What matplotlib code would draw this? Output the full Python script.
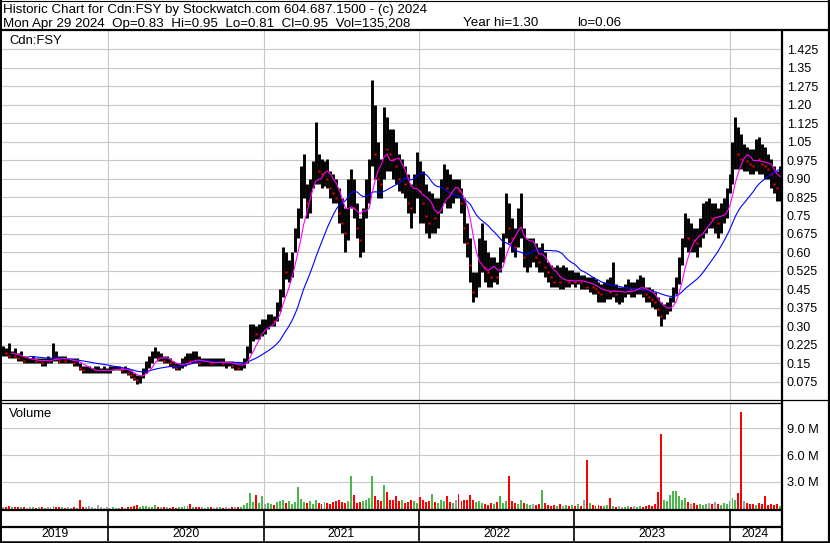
import numpy as np
import pandas as pd
import matplotlib
matplotlib.use("Agg")
import matplotlib.pyplot as plt

plt.rcParams['font.family'] = ['Liberation Sans', 'DejaVu Sans']

# ---------------- data (weekly) ----------------
last_week = "2024-04-29"
n_weeks = 262

high = [
    .22, .21, .23, .20, .21, .19, .20, .18, .18, .17,
    .18, .17, .17, .17, .17, .18, .17, .23, .20, .18,
    .18, .18, .17, .17, .17, .17, .15, .14, .14, .14,
    .13, .14, .14, .13, .14, .13, .14, .14, .14, .14,
    .13, .14, .13, .12, .11, .10, .10, .13, .16, .18,
    .20, .215, .20, .19, .18, .18, .17, .16, .15, .15,
    .17, .18, .19, .19, .20, .20, .18, .17, .17, .17,
    .17, .17, .17, .17, .17, .16, .16, .16, .15, .15,
    .15, .17, .22, .31, .31, .30, .31, .33, .33, .35,
    .35, .34, .40, .45, .62, .60, .57, .60, .70, .78,
    .95, 1.00, .88, .90, .97, 1.13, 1.00, .98, .97, .98,
    .93, .92, .90, .86, .82, .78, .90, .94, .90, .80,
    .74, .78, .90, .98, 1.30, 1.20, 1.05, .98, 1.19, 1.15,
    1.10, 1.10, 1.05, 1.00, .98, .95, .92, .88, .92, 1.01,
    .97, .93, .88, .85, .84, .82, .82, .90, .96, .94,
    .92, .90, .90, .90, .86, .82, .72, .66, .52, .52,
    .66, .72, .65, .60, .58, .58, .56, .62, .68, .84,
    .80, .74, .70, .78, .84, .70, .66, .66, .66, .64,
    .62, .64, .60, .56, .55, .54, .55, .54, .55, .54,
    .53, .53, .52, .52, .51, .51, .50, .50, .50, .49,
    .48, .47, .48, .49, .50, .56, .47, .46, .46, .47,
    .49, .48, .48, .49, .51, .50, .46, .46, .45, .44,
    .42, .40, .39, .40, .42, .46, .50, .58, .66, .76,
    .74, .72, .70, .70, .74, .80, .81, .82, .80, .80,
    .78, .80, .82, .86, .92, 1.05, 1.15, 1.11, 1.08, 1.04,
    1.03, 1.02, 1.02, 1.06, 1.07, 1.04, 1.03, 1.00, .98, .95,
    .93, .95,
]

low = [
    .18, .18, .17, .17, .17, .16, .16, .15, .15, .15,
    .15, .15, .15, .14, .14, .15, .15, .16, .16, .15,
    .15, .15, .15, .15, .14, .14, .12, .11, .11, .11,
    .11, .11, .11, .11, .11, .11, .11, .12, .12, .12,
    .11, .11, .10, .09, .08, .065, .07, .09, .11, .13,
    .15, .17, .16, .16, .15, .15, .14, .13, .12, .12,
    .13, .14, .15, .15, .15, .15, .14, .14, .14, .14,
    .14, .14, .14, .14, .14, .13, .14, .13, .12, .12,
    .12, .13, .15, .19, .24, .25, .25, .26, .27, .29,
    .30, .30, .32, .36, .42, .49, .48, .50, .60, .66,
    .74, .82, .74, .76, .86, .88, .88, .86, .87, .86,
    .82, .80, .80, .72, .68, .60, .65, .78, .74, .66,
    .58, .60, .74, .80, .95, .90, .82, .82, .90, .93,
    .93, .90, .88, .85, .84, .82, .76, .70, .76, .82,
    .72, .72, .68, .66, .68, .68, .70, .76, .80, .78,
    .78, .80, .82, .82, .76, .64, .58, .48, .40, .42,
    .46, .52, .48, .46, .46, .48, .47, .52, .56, .66,
    .64, .60, .58, .62, .66, .54, .52, .54, .56, .54,
    .52, .52, .50, .48, .46, .46, .46, .45, .45, .46,
    .46, .47, .46, .47, .45, .45, .45, .44, .43, .43,
    .40, .40, .40, .41, .41, .42, .40, .39, .40, .42,
    .43, .42, .42, .43, .43, .42, .40, .40, .38, .37,
    .34, .30, .33, .35, .36, .40, .43, .47, .55, .62,
    .60, .60, .60, .58, .62, .66, .68, .70, .70, .68,
    .66, .68, .72, .74, .84, .88, .94, .94, .94, .93,
    .93, .92, .92, .93, .92, .92, .90, .90, .86, .84,
    .81, .81,
]

close = [
    .20, .19, .18, .19, .18, .17, .18, .16, .16, .16,
    .17, .16, .16, .15, .16, .16, .16, .19, .17, .16,
    .17, .16, .16, .16, .15, .16, .13, .12, .12, .12,
    .12, .12, .12, .12, .12, .12, .12, .13, .13, .13,
    .12, .12, .11, .10, .09, .08, .09, .12, .15, .16,
    .18, .19, .17, .17, .16, .16, .15, .14, .13, .14,
    .15, .16, .17, .16, .17, .16, .15, .15, .15, .16,
    .15, .15, .15, .16, .15, .15, .15, .14, .14, .13,
    .14, .16, .20, .27, .28, .27, .28, .30, .30, .32,
    .33, .32, .38, .42, .55, .52, .53, .57, .66, .74,
    .88, .90, .80, .86, .93, .96, .93, .92, .94, .90,
    .86, .84, .82, .76, .72, .68, .85, .88, .78, .70,
    .65, .75, .85, .95, 1.15, 1.00, .90, .88, 1.05, 1.02,
    1.00, .98, .95, .90, .92, .88, .80, .78, .88, .90,
    .85, .80, .75, .72, .78, .74, .76, .86, .90, .86,
    .84, .86, .86, .85, .80, .70, .64, .55, .44, .48,
    .58, .60, .54, .52, .50, .52, .50, .58, .64, .78,
    .70, .66, .62, .72, .74, .58, .60, .62, .62, .58,
    .56, .58, .54, .52, .50, .48, .50, .48, .48, .49,
    .48, .49, .48, .49, .48, .48, .46, .47, .46, .45,
    .44, .43, .44, .45, .44, .46, .43, .43, .43, .44,
    .46, .45, .45, .46, .47, .45, .43, .42, .41, .40,
    .37, .34, .36, .37, .40, .44, .48, .55, .62, .70,
    .66, .66, .65, .64, .70, .74, .76, .76, .74, .74,
    .72, .76, .78, .82, .90, 1.00, 1.05, 1.00, .98, .98,
    .97, .96, .95, 1.00, .98, .96, .95, .94, .92, .88,
    .86, .90,
]

volume_m = [
    .2, .15, .25, .15, .2, .15, .2, .15, .1, .15,
    .15, .1, .2, .15, .1, .15, .15, .3, .2, .15,
    .15, .1, .15, .1, .15, .1, .9, .2, .15, .3,
    .15, .1, .4, .15, .1, .15, .1, .15, .1, .1,
    .15, .1, .15, .2, .25, .35, .2, .3, .25, .2,
    .2, .35, .2, .15, .2, .15, .1, .15, .1, .15,
    .2, .25, .3, .45, .2, .15, .2, .15, .1, .15,
    .15, .1, .2, .15, .1, .15, .1, .15, .2, .15,
    .2, .4, .6, 1.75, .7, 1.5, .6, 1.4, .5, .6,
    .5, .4, .7, .8, .9, .6, .8, .5, .7, 2.4,
    1.1, .7, .6, .8, .5, .9, .6, .5, .7, .6,
    .5, .7, .8, 1.0, .7, .6, .8, 3.6, 1.5, .6,
    .7, .8, 1.0, 1.2, 3.7, 1.4, .9, .8, 2.6, 1.8,
    1.0, .9, 1.4, .8, .9, .6, .7, .9, .8, .6,
    1.3, .9, .7, .8, 1.6, .7, .6, 1.0, .8, 1.4,
    .7, .6, .9, 1.6, .8, .9, 1.0, 1.5, .9, .7,
    .8, .6, .5, .4, .6, .5, .7, 1.4, .6, .8,
    3.6, .8, .6, .5, .9, .6, .5, .4, .5, .4,
    .5, 2.1, .6, .4, .3, .4, .3, .5, .3, .4,
    .3, .4, .3, .5, .3, .9, 5.4, .6, .4, .3,
    .4, .3, .3, .4, 1.2, .3, .2, .3, .2, .2,
    .3, .2, .3, .2, .3, .2, .3, .4, .3, .5,
    1.9, 8.4, .9, .8, 1.5, 2.0, 2.0, 1.4, .9, 1.2,
    .7, .5, .6, .4, .5, .4, .5, .6, .5, .7,
    .5, .4, .6, .5, .8, 1.2, .9, 1.7, 10.8, .8,
    .6, .5, .5, .4, .6, .5, 1.4, .4, .5, .4,
    .5, .3,
]

price_ticks = [0.075, 0.15, 0.225, 0.30, 0.375, 0.45, 0.525, 0.60, 0.675, 0.75,
               0.825, 0.90, 0.975, 1.05, 1.125, 1.20, 1.275, 1.35, 1.425]
price_tick_labels = ['0.075', '0.15', '0.225', '0.30', '0.375', '0.45', '0.525', '0.60',
                     '0.675', '0.75', '0.825', '0.90', '0.975', '1.05', '1.125', '1.20',
                     '1.275', '1.35', '1.425']
vol_ticks = [3, 6, 9]
vol_tick_labels = ['3.0 M', '6.0 M', '9.0 M']
years = [2019, 2020, 2021, 2022, 2023, 2024]

title_line1 = "Historic Chart for Cdn:FSY by Stockwatch.com 604.687.1500 - (c) 2024"
title_line2a = "Mon Apr 29 2024  Op=0.83  Hi=0.95  Lo=0.81  Cl=0.95  Vol=135,208"
title_line2b = "Year hi=1.30"
title_line2c = "lo=0.06"
symbol = "Cdn:FSY"

# ---------------- derived ----------------
dates = pd.date_range(end=last_week, periods=n_weeks, freq="7D")
hi = np.array(high); lo = np.array(low); cl = np.array(close)
vol = np.array(volume_m)
cs = pd.Series(cl, index=dates)
ma_short = cs.rolling(6, min_periods=4).mean()    # ~30-day
ma_long = cs.rolling(20, min_periods=10).mean()   # ~100-day
chg = np.diff(cl, prepend=cl[0])
vcolors = np.where(chg > 0, '#4cb84c', np.where(chg < 0, '#ff0000', '#a0a0a0'))

W, H = 830, 543
fig = plt.figure(figsize=(W / 100, H / 100), dpi=100)
fig.patch.set_facecolor('white')


def rect(x0, y0, x1, y1):
    return [x0 / W, 1 - y1 / H, (x1 - x0) / W, (y1 - y0) / H]


xmin = pd.Timestamp("2019-04-27")
xmax = pd.Timestamp("2024-05-01")
year_starts = [pd.Timestamp(f"{y}-01-01") for y in years[1:]]
grid_c = '#c8c8c8'
fs = 9.0
fs_head = 9.65

# ---- price panel ----
ax = fig.add_axes(rect(2, 31, 781, 400))
ax.set_xlim(xmin, xmax)
ax.set_ylim(0, 1.5)
for t in price_ticks:
    ax.axhline(t, color=grid_c, lw=0.8, zorder=0)
for d in year_starts:
    ax.axvline(d, color=grid_c, lw=0.8, zorder=0)
ax.vlines(dates, lo, hi, color='black', lw=2.1, zorder=2)
down = chg < 0
ax.plot(dates[down], cl[down], ls='none', marker='s', ms=1.6, mec='none',
        mfc='#ff0000', zorder=3)
ax.plot(dates, ma_long, color='#0000ff', lw=0.8, zorder=4)
ax.plot(dates, ma_short, color='#ff00ff', lw=0.8, zorder=5)
ax.yaxis.tick_right()
ax.set_yticks(price_ticks)
ax.set_yticklabels(price_tick_labels, fontsize=fs)
ax.tick_params(axis='y', length=0, pad=4.3)
ax.set_xticks([])
for s in ax.spines.values():
    s.set_visible(False)
ax.text(0.009, 0.972, symbol, transform=ax.transAxes, fontsize=9.4,
        ha='left', va='center')

# ---- volume panel ----
av = fig.add_axes(rect(2, 403, 781, 508.5))
av.set_xlim(xmin, xmax)
av.set_ylim(0, 11.84)
for t in vol_ticks + [12]:
    av.axhline(t, color=grid_c, lw=0.8, zorder=0)
for d in year_starts:
    av.axvline(d, color=grid_c, lw=0.8, zorder=0)
av.bar(dates, vol, width=4.6, color=vcolors, zorder=2, linewidth=0)
av.yaxis.tick_right()
av.set_yticks(vol_ticks)
av.set_yticklabels(vol_tick_labels, fontsize=9.2)
av.tick_params(axis='y', length=0, pad=4.3)
av.set_xticks([])
for s in av.spines.values():
    s.set_visible(False)
av.text(0.009, 0.9, "Volume", transform=av.transAxes, fontsize=9.4,
        ha='left', va='center')

# ---- year strip ----
ay = fig.add_axes(rect(2, 511, 781, 541))
ay.set_xlim(xmin, xmax)
ay.set_ylim(0, 1)
ay.axis('off')
bounds = [xmin] + year_starts + [xmax]
for d in year_starts:
    ay.axvline(d, color='black', lw=1.2)
for y, a, b in zip(years, bounds[:-1], bounds[1:]):
    mid = a + (b - a) / 2
    ay.text(mid, 0.22, str(y), ha='center', va='center', fontsize=8.8)

# ---- frame lines (pixel overlay) ----
ov = fig.add_axes([0, 0, 1, 1], zorder=10)
ov.set_xlim(0, W)
ov.set_ylim(H, 0)
ov.axis('off')
ov.patch.set_alpha(0)
lk = dict(color='black', solid_capstyle='butt')
ov.plot([0, W], [0.5, 0.5], lw=0.8, **lk)
ov.plot([0.8, 0.8], [0, H], lw=1.4, **lk)
ov.plot([W - 1.2, W - 1.2], [0, H], lw=1.6, **lk)
ov.plot([0, W], [30.3, 30.3], lw=1.6, **lk)
ov.plot([781.8, 781.8], [30, H], lw=1.6, **lk)
ov.plot([0, W], [400.3, 400.3], lw=0.9, **lk)
ov.plot([0, 781.8], [402.7, 402.7], lw=0.9, **lk)
ov.plot([0, 781.8], [510, 510], lw=1.6, **lk)
ov.plot([0, 781.8], [526.6, 526.6], lw=1.6, **lk)
ov.plot([0, W], [541.9, 541.9], lw=1.8, **lk)

fig.text(3 / W, 1 - 9.5 / H, title_line1, fontsize=fs_head, ha='left', va='center')
fig.text(3 / W, 1 - 23.5 / H, title_line2a, fontsize=fs_head, ha='left', va='center')
fig.text(463 / W, 1 - 23.5 / H, title_line2b, fontsize=fs_head, ha='left', va='center')
fig.text(577 / W, 1 - 23.5 / H, title_line2c, fontsize=fs_head, ha='left', va='center')

fig.savefig("out.png", dpi=100, facecolor='white')
